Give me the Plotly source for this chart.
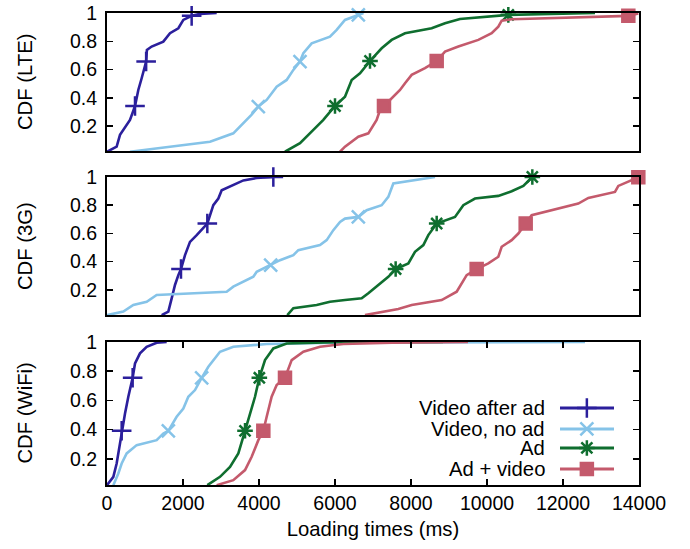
import plotly.graph_objects as go

# ---------------- data (loading time ms, CDF) ----------------
# LTE
lte_after_x = [0, 254, 342, 474, 605, 700, 737, 770, 824, 912, 1030, 1050, 1175, 1482, 1658, 1877, 2009, 2228, 2447, 2886]
lte_after_y = [0.02, 0.056, 0.139, 0.197, 0.245, 0.315, 0.343, 0.386, 0.456, 0.539, 0.657, 0.739, 0.763, 0.798, 0.857, 0.892, 0.951, 0.98, 0.994, 1.0]
lte_after_m = [0, 6, 10, 17]

lte_noad_x = [605, 2711, 3324, 3588, 3800, 3982, 4202, 4465, 4728, 4904, 5079, 5167, 5386, 5868, 6044, 6263, 6614, 6750]
lte_noad_y = [0.02, 0.091, 0.15, 0.221, 0.28, 0.339, 0.386, 0.48, 0.527, 0.598, 0.657, 0.716, 0.786, 0.833, 0.881, 0.951, 0.987, 1.0]
lte_noad_m = [0, 5, 10, 16]

lte_ad_x = [4684, 5079, 5430, 5693, 6000, 6263, 6439, 6658, 6921, 7228, 7491, 7842, 8544, 8895, 9289, 10035, 10561, 12842]
lte_ad_y = [0.02, 0.08, 0.174, 0.245, 0.343, 0.409, 0.527, 0.574, 0.661, 0.751, 0.81, 0.857, 0.892, 0.928, 0.958, 0.975, 0.987, 1.0]
lte_ad_m = [0, 4, 8, 16]

lte_advid_x = [6132, 6263, 6614, 6877, 7096, 7184, 7289, 7491, 7711, 7842, 8018, 8368, 8676, 8895, 9246, 9772, 10123, 10298, 10386, 10649, 13719, 13982]
lte_advid_y = [0.02, 0.056, 0.126, 0.15, 0.245, 0.315, 0.343, 0.398, 0.456, 0.504, 0.563, 0.61, 0.661, 0.727, 0.763, 0.81, 0.857, 0.904, 0.946, 0.956, 0.98, 0.997]
lte_advid_m = [0, 6, 12, 20]

# 3G
g3_after_x = [1439, 1614, 1702, 1789, 1877, 1947, 2053, 2184, 2360, 2535, 2640, 2798, 2930, 3018, 3324, 3588, 3939, 4377]
g3_after_y = [0.02, 0.045, 0.139, 0.234, 0.304, 0.347, 0.446, 0.54, 0.588, 0.635, 0.67, 0.8, 0.847, 0.906, 0.941, 0.976, 0.993, 1.0]
g3_after_m = [0, 5, 10, 17]

g3_noad_x = [0, 430, 693, 1044, 1307, 2447, 3149, 3324, 3588, 3851, 3939, 4307, 4553, 4904, 5035, 5605, 5781, 5956, 6132, 6263, 6614, 6833, 7228, 7403, 7535, 8632]
g3_noad_y = [0.02, 0.045, 0.092, 0.115, 0.163, 0.175, 0.186, 0.222, 0.257, 0.292, 0.328, 0.375, 0.41, 0.446, 0.481, 0.517, 0.552, 0.623, 0.681, 0.705, 0.717, 0.765, 0.8, 0.859, 0.954, 1.0]
g3_noad_m = [0, 11, 20]

g3_ad_x = [4745, 4904, 5518, 5868, 6263, 6702, 6877, 7140, 7403, 7596, 7930, 8105, 8325, 8456, 8676, 9158, 9377, 9684, 10298, 10649, 10956, 11193]
g3_ad_y = [0.02, 0.069, 0.092, 0.115, 0.127, 0.139, 0.175, 0.234, 0.292, 0.347, 0.387, 0.469, 0.517, 0.588, 0.67, 0.717, 0.8, 0.847, 0.866, 0.899, 0.937, 1.0]
g3_ad_m = [0, 9, 14, 21]

g3_advid_x = [6789, 7666, 8018, 8807, 9202, 9465, 9728, 10035, 10298, 10386, 10649, 10825, 11018, 11175, 12403, 12667, 13368, 13456, 13982]
g3_advid_y = [0.02, 0.064, 0.092, 0.127, 0.186, 0.304, 0.347, 0.387, 0.434, 0.505, 0.552, 0.599, 0.67, 0.729, 0.812, 0.852, 0.894, 0.937, 0.998]
g3_advid_m = [0, 6, 12, 18]

# WiFi
wifi_after_x = [0, 167, 254, 386, 474, 561, 675, 737, 868, 1044, 1307, 1570]
wifi_after_y = [0.02, 0.077, 0.168, 0.392, 0.511, 0.625, 0.755, 0.853, 0.922, 0.967, 0.995, 1.0]
wifi_after_m = [0, 3, 6]

wifi_noad_x = [167, 298, 386, 518, 781, 1307, 1482, 1614, 1833, 2009, 2140, 2316, 2491, 2667, 2974, 3324, 4202, 6000, 12579]
wifi_noad_y = [0.02, 0.1, 0.168, 0.237, 0.294, 0.328, 0.374, 0.392, 0.488, 0.545, 0.625, 0.671, 0.755, 0.83, 0.933, 0.967, 0.986, 0.995, 1.0]
wifi_noad_m = [0, 7, 12]

wifi_ad_x = [2640, 2974, 3237, 3456, 3632, 3763, 3895, 4009, 4158, 4377, 4728, 6000, 8842]
wifi_ad_y = [0.02, 0.077, 0.145, 0.237, 0.392, 0.511, 0.625, 0.755, 0.876, 0.956, 0.99, 0.998, 1.0]
wifi_ad_m = [0, 4, 7]

wifi_advid_x = [2886, 3324, 3632, 3807, 3982, 4114, 4202, 4333, 4465, 4684, 4860, 5167, 5605, 6219, 7500, 9500]
wifi_advid_y = [0.02, 0.054, 0.123, 0.214, 0.328, 0.392, 0.488, 0.625, 0.705, 0.755, 0.876, 0.933, 0.967, 0.986, 0.995, 1.0]
wifi_advid_m = [0, 5, 9]

series_names = ["Video after ad", "Video, no ad", "Ad", "Ad + video"]
panel_titles = ["CDF (LTE)", "CDF (3G)", "CDF (WiFi)"]
x_ticks = [0, 2000, 4000, 6000, 8000, 10000, 12000, 14000]
y_ticks = [0.2, 0.4, 0.6, 0.8, 1]
y_tick_text = ["0.2", "0.4", "0.6", "0.8", "1"]

# ---------------- styles ----------------
colors = ["#2b1f9c", "#85c3e8", "#0f6e2f", "#c45a6c"]
symbols = ["cross-thin", "x-thin", "asterisk", "square"]
msizes = [14, 13, 13, 12]
FONT = "Liberation Sans, Arial, sans-serif"
FS_TICK = 19.5
FS_TEXT = 20.3

panels = [
    [(lte_after_x, lte_after_y, lte_after_m), (lte_noad_x, lte_noad_y, lte_noad_m),
     (lte_ad_x, lte_ad_y, lte_ad_m), (lte_advid_x, lte_advid_y, lte_advid_m)],
    [(g3_after_x, g3_after_y, g3_after_m), (g3_noad_x, g3_noad_y, g3_noad_m),
     (g3_ad_x, g3_ad_y, g3_ad_m), (g3_advid_x, g3_advid_y, g3_advid_m)],
    [(wifi_after_x, wifi_after_y, wifi_after_m), (wifi_noad_x, wifi_noad_y, wifi_noad_m),
     (wifi_ad_x, wifi_ad_y, wifi_ad_m), (wifi_advid_x, wifi_advid_y, wifi_advid_m)],
]

fig = go.Figure()

for p, panel in enumerate(panels):
    xa = "x" if p == 0 else f"x{p+1}"
    ya = "y" if p == 0 else f"y{p+1}"
    for s, (xs, ys, mi) in enumerate(panel):
        fig.add_trace(go.Scatter(x=xs, y=ys, mode="lines", xaxis=xa, yaxis=ya,
                                 line=dict(color=colors[s], width=2.6),
                                 name=series_names[s], showlegend=False, hoverinfo="skip"))
        fig.add_trace(go.Scatter(x=[xs[i] for i in mi], y=[ys[i] for i in mi], mode="markers",
                                 xaxis=xa, yaxis=ya, cliponaxis=False,
                                 marker=dict(symbol=symbols[s], size=msizes[s], color=colors[s],
                                             line=dict(color=colors[s], width=2.5)),
                                 showlegend=False, hoverinfo="skip"))

# ---------------- manual legend (text left, sample right) ----------------
leg_rows = [0.538, 0.392, 0.259, 0.112]
for s in range(4):
    fig.add_trace(go.Scatter(x=[0.8515, 0.953], y=[leg_rows[s]] * 2, mode="lines",
                             xaxis="x4", yaxis="y4", line=dict(color=colors[s], width=3),
                             showlegend=False, hoverinfo="skip"))
    fig.add_trace(go.Scatter(x=[0.902], y=[leg_rows[s]], mode="markers", xaxis="x4", yaxis="y4",
                             cliponaxis=False,
                             marker=dict(symbol=symbols[s], size=msizes[s], color=colors[s],
                                         line=dict(color=colors[s], width=2.5)),
                             showlegend=False, hoverinfo="skip"))
    fig.add_annotation(x=0.827, y=leg_rows[s], xref="x4", yref="y4", text=series_names[s],
                       showarrow=False, xanchor="right", yanchor="middle",
                       font=dict(family=FONT, size=FS_TEXT, color="black"))

domains = [[0.7076, 1.0], [0.3602, 0.6525], [0.0, 0.3030]]
yranges = [[0.025, 1.0], [0.021, 1.0], [0.021, 1.0]]

layout = dict(
    width=690, height=549,
    margin=dict(l=107, r=51, t=13, b=64, autoexpand=False),
    paper_bgcolor="white", plot_bgcolor="white",
    font=dict(family=FONT, size=FS_TICK, color="black"),
    showlegend=False, hovermode=False,
)
axis_common = dict(showline=True, linecolor="black", linewidth=2, showgrid=False, zeroline=False,
                   mirror="ticks", ticks="inside", ticklen=6, tickwidth=1.5, tickcolor="black",
                   automargin=False, ticklabeloverflow="allow",
                   tickfont=dict(family=FONT, size=FS_TICK, color="black"))
for p in range(3):
    xk = "xaxis" if p == 0 else f"xaxis{p+1}"
    yk = "yaxis" if p == 0 else f"yaxis{p+1}"
    ya = "y" if p == 0 else f"y{p+1}"
    xa = "x" if p == 0 else f"x{p+1}"
    xd = dict(axis_common, domain=[0, 1], anchor=ya, range=[0, 14000], tickvals=x_ticks,
              ticktext=[str(v) for v in x_ticks])
    if p < 2:
        xd.update(ticks="", showticklabels=False, mirror=True)
    else:
        xd.update(title=dict(text="Loading times (ms)", font=dict(family=FONT, size=FS_TEXT), standoff=8))
    layout[xk] = xd
    layout[yk] = dict(axis_common, domain=domains[p], anchor=xa, range=yranges[p],
                      tickvals=y_ticks, ticktext=y_tick_text, ticklabelstandoff=4)
    fig.add_annotation(x=-0.154, y=sum(domains[p]) / 2, xref="paper", yref="paper",
                       text=panel_titles[p], textangle=-90, showarrow=False,
                       xanchor="center", yanchor="middle", font=dict(family=FONT, size=FS_TEXT))

layout["xaxis4"] = dict(domain=[0, 1], range=[0, 1], visible=False, anchor="y4",
                        overlaying="x3", fixedrange=True)
layout["yaxis4"] = dict(domain=domains[2], range=[0, 1], visible=False, anchor="x4",
                        overlaying="y3", fixedrange=True)

fig.update_layout(**layout)
# remove the browser's default 8px body margin so the figure sits at the page origin
fig.write_html("out.html", config={"displayModeBar": False, "staticPlot": True},
               post_script="document.body.style.margin='0px';")
